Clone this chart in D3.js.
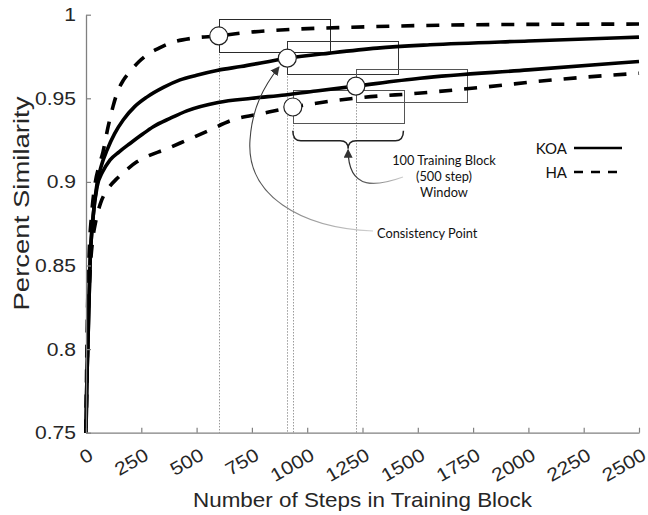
<!DOCTYPE html>
<html><head><meta charset="utf-8">
<script src="https://cdn.jsdelivr.net/npm/d3@7"></script>
<style>body{margin:0;background:#fff}svg{display:block}</style>
</head><body>
<svg id="c" width="648" height="515"></svg>
<script>
// ---- data ----
const xTicks = [0,250,500,750,1000,1250,1500,1750,2000,2250,2500];
const yTicks = [0.75,0.8,0.85,0.9,0.95,1];
const yTickLabels = ["0.75","0.8","0.85","0.9","0.95","1"];

const koaTopX = [0,3,9,18,32,50,70,95,130,168,220,275,350,425,500,597,700,913,1100,1316,1555,2000,2500];
const koaTopY = [0.75,0.775,0.805,0.85,0.879,0.899,0.91,0.919,0.929,0.937,0.945,0.9507,0.9565,0.961,0.9638,0.9668,0.969,0.974,0.977,0.98,0.982,0.9843,0.9866];

const koaLowX = [0,3,9,18,32,50,75,108,150,199,250,304,380,456,597,750,900,1050,1220,1510,2000,2500];
const koaLowY = [0.75,0.775,0.805,0.85,0.879,0.897,0.906,0.913,0.918,0.923,0.928,0.933,0.938,0.9425,0.9475,0.95,0.952,0.9545,0.9573,0.962,0.967,0.972];

const haTopX = [0,3,8,15,25,40,60,77,100,122,140,170,199,240,276,330,380,484,600,700,900,1200,1646,2000,2500];
const haTopY = [0.75,0.79,0.83,0.86,0.88,0.898,0.91,0.918,0.933,0.945,0.953,0.961,0.966,0.972,0.976,0.98,0.983,0.986,0.9873,0.989,0.991,0.9925,0.9938,0.9942,0.9944];

const haLowX = [0,4,10,20,30,45,65,100,140,190,230,290,350,456,560,651,800,936,1013,1250,1500,1800,2111,2500];
const haLowY = [0.75,0.78,0.82,0.85,0.865,0.877,0.887,0.896,0.902,0.908,0.912,0.916,0.919,0.925,0.931,0.9365,0.941,0.9448,0.9465,0.9505,0.953,0.9567,0.961,0.965];

// consistency points (step, similarity) ; window = 500 steps, +-0.01
const cpX = [600, 910, 935, 1220];
const cpY = [0.9873, 0.974, 0.9448, 0.9573];
const windowSteps = 500;
const windowHalf = 0.01;

const legendLabels = ["KOA","HA"];

// ---- layout ----
const svg = d3.select("#c");
const x = d3.scaleLinear().domain([0,2500]).range([86,639]);
const y = d3.scaleLinear().domain([0.75,1]).range([432.7,14.7]);
const axisCol = "#808080", textCol = "#262626";
const sansFont = "Liberation Sans, Arial, sans-serif";

// dotted verticals
svg.append("g").selectAll("line").data(cpX.map((d,i)=>[d,cpY[i]])).join("line")
  .attr("x1",d=>Math.round(x(d[0]))+0.5).attr("x2",d=>Math.round(x(d[0]))+0.5)
  .attr("y1",d=>y(d[1])+9).attr("y2",y(0.75))
  .attr("stroke","#9a9a9a").attr("stroke-width",1).attr("stroke-dasharray","1.5,1.5");

// window boxes
const boxCols = ["#2a2a2a","#333","#555","#555"];
svg.append("g").selectAll("rect").data(cpX.map((d,i)=>[d,cpY[i],boxCols[i]])).join("rect")
  .attr("x",d=>Math.round(x(d[0]))+0.5).attr("width",d=>Math.round(x(d[0]+windowSteps)-x(d[0])))
  .attr("y",d=>Math.round(y(d[1]+windowHalf))+0.5).attr("height",d=>Math.round(y(d[1]-windowHalf)-y(d[1]+windowHalf)))
  .attr("fill","none").attr("stroke",d=>d[2]).attr("stroke-width",1);

// curves
const line = d3.line().x(d=>x(d[0])).y(d=>y(d[1])).curve(d3.curveMonotoneX);
const series = [
  {xs:koaTopX, ys:koaTopY, dash:null},
  {xs:koaLowX, ys:koaLowY, dash:null},
  {xs:haTopX, ys:haTopY, dash:"13,12"},
  {xs:haLowX, ys:haLowY, dash:"13,12"}
];
const gC = svg.append("g");
series.forEach(s=>{
  gC.append("path").datum(s.xs.map((v,i)=>[v,s.ys[i]]))
    .attr("d",line).attr("fill","none").attr("stroke","#000")
    .attr("stroke-width",3.6).attr("stroke-dasharray",s.dash);
});

// circles
svg.append("g").selectAll("circle").data(cpX.map((d,i)=>[d,cpY[i]])).join("circle")
  .attr("cx",d=>x(d[0])).attr("cy",d=>y(d[1])).attr("r",9)
  .attr("fill","#fff").attr("stroke","#222").attr("stroke-width",1.2);

// axes
const gx = svg.append("g").attr("transform",`translate(0,${y(0.75)})`)
  .call(d3.axisBottom(x).tickValues(xTicks).tickSize(-5).tickSizeOuter(0).tickFormat(d3.format("d")));
gx.select(".domain").attr("stroke",axisCol).attr("stroke-width",1.3);
gx.selectAll(".tick line").attr("stroke",axisCol).attr("stroke-width",1.2);
gx.selectAll(".tick text").attr("fill",textCol).attr("font-family",sansFont)
  .attr("font-size",18.5).attr("text-anchor","end").attr("dy",null).attr("y",null)
  .attr("transform","translate(8,26) rotate(-30) scale(1.14,1)");

const gy = svg.append("g").attr("transform",`translate(${x(0)},0)`)
  .call(d3.axisLeft(y).tickValues(yTicks).tickSize(-5).tickSizeOuter(0).tickFormat((d,i)=>yTickLabels[i]));
gy.select(".domain").attr("stroke",axisCol).attr("stroke-width",1.3);
gy.selectAll(".tick line").attr("stroke",axisCol).attr("stroke-width",1.2);
gy.selectAll(".tick text").attr("fill",textCol).attr("font-family",sansFont)
  .attr("font-size",18.5).attr("x",null).attr("transform","translate(-10,0) scale(1.14,1)");

// axis titles
svg.append("text").attr("x",362.5).attr("y",507).attr("text-anchor","middle")
  .attr("font-family",sansFont).attr("font-size",21).attr("fill",textCol)
  .attr("textLength",339).attr("lengthAdjust","spacingAndGlyphs")
  .text("Number of Steps in Training Block");
svg.append("text").attr("transform","translate(28.5,203.5) rotate(-90)").attr("text-anchor","middle")
  .attr("font-family",sansFont).attr("font-size",22).attr("fill",textCol)
  .attr("textLength",214).attr("lengthAdjust","spacingAndGlyphs")
  .text("Percent Similarity");

// legend
const lg = svg.append("g");
legendLabels.forEach((t,i)=>{
  const yy = 148 + i*24;
  lg.append("text").attr("x",567).attr("y",yy+5.5).attr("text-anchor","end")
    .attr("font-family","Lato, sans-serif").attr("font-size",15).attr("fill","#111").text(t);
  lg.append("line").attr("x1",574).attr("x2",622).attr("y1",yy).attr("y2",yy)
    .attr("stroke","#000").attr("stroke-width",2.6).attr("stroke-dasharray",i===1?"9,8":null);
});

// defs: gradients + arrow
const defs = svg.append("defs");
defs.append("marker").attr("id","ah").attr("viewBox","0 0 10 10").attr("refX",9).attr("refY",5)
  .attr("markerWidth",9).attr("markerHeight",9).attr("markerUnits","userSpaceOnUse").attr("orient","auto")
  .append("path").attr("d","M0,0 L10,5 L0,10 z").attr("fill","#333");
const g1 = defs.append("linearGradient").attr("id","g1").attr("gradientUnits","userSpaceOnUse")
  .attr("x1",373).attr("y1",231).attr("x2",279).attr("y2",67);
g1.append("stop").attr("offset","0").attr("stop-color","#d0d0d0");
g1.append("stop").attr("offset","0.5").attr("stop-color","#555");
g1.append("stop").attr("offset","1").attr("stop-color","#333");
const g2 = defs.append("linearGradient").attr("id","g2").attr("gradientUnits","userSpaceOnUse")
  .attr("x1",403).attr("y1",177).attr("x2",350).attr("y2",175);
g2.append("stop").attr("offset","0").attr("stop-color","#d0d0d0");
g2.append("stop").attr("offset","1").attr("stop-color","#333");

// brace under last window (HA lower)
const bx0 = x(cpX[2]), bx1 = x(cpX[2]+windowSteps), bm = (bx0+bx1)/2;
const bt = y(cpY[2]-windowHalf)+7, bmid = bt+10, bp = bt+18;
svg.append("path")
  .attr("d",`M${bx0},${bt} Q${bx0},${bmid} ${bx0+8},${bmid} L${bm-8},${bmid} Q${bm},${bmid} ${bm},${bp} Q${bm},${bmid} ${bm+8},${bmid} L${bx1-8},${bmid} Q${bx1},${bmid} ${bx1},${bt}`)
  .attr("fill","none").attr("stroke","#222").attr("stroke-width",1.5);

// arrow to brace
svg.append("path").attr("d",`M403,177 C378,186 ${bm},192 ${bm},${bp+1}`)
  .attr("fill","none").attr("stroke","url(#g2)").attr("stroke-width",1.2).attr("marker-end","url(#ah)");

// arrow to consistency point
svg.append("path").attr("d","M373,231 C300,228 246,195 250,140 C252,108 264,86 279,67")
  .attr("fill","none").attr("stroke","url(#g1)").attr("stroke-width",1.1).attr("marker-end","url(#ah)");

// annotation text
const ann = svg.append("g").attr("font-family","Lato, sans-serif").attr("font-size",12.8).attr("fill","#111");
ann.append("text").attr("x",444).attr("y",164.5).attr("text-anchor","middle").text("100 Training Block");
ann.append("text").attr("x",444).attr("y",181).attr("text-anchor","middle").text("(500 step)");
ann.append("text").attr("x",444).attr("y",197).attr("text-anchor","middle").text("Window");
ann.append("text").attr("x",377).attr("y",237.5).text("Consistency Point");
</script>
</body></html>
